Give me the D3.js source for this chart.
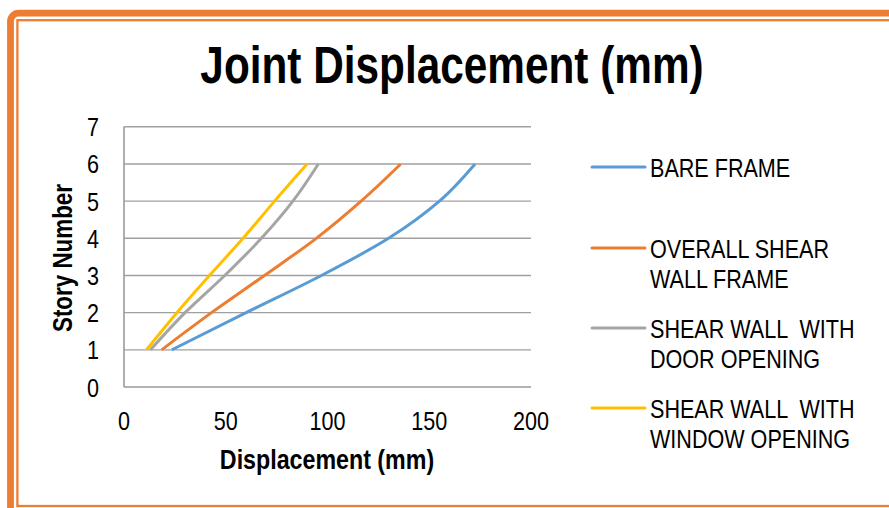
<!DOCTYPE html>
<html>
<head>
<meta charset="utf-8">
<script src="https://cdn.jsdelivr.net/npm/d3@7"></script>
<style>
  html, body { margin: 0; padding: 0; background: #fff; }
  svg { display: block; }
  text { font-family: "Liberation Sans", Arial, sans-serif; fill: #000; }
</style>
</head>
<body>
<svg id="chart" width="889" height="508"></svg>
<script>
// ---- data ----
const stories = [1, 2, 3, 4, 5, 6];
const bareFrame = [23.5, 60, 97, 130, 155, 172.5];
const overallShearWall = [18.5, 43, 69, 94.5, 116.5, 136];
const doorOpening = [13, 30, 49.5, 67.5, 83, 95.5];
const windowOpening = [11, 26, 42, 58.5, 74, 90];
const seriesNames = [
  ["BARE FRAME"],
  ["OVERALL SHEAR", "WALL FRAME"],
  ["SHEAR WALL  WITH", "DOOR OPENING"],
  ["SHEAR WALL  WITH", "WINDOW OPENING"]
];
const seriesColors = ["#5B9BD5", "#ED7D31", "#A5A5A5", "#FFC000"];
const xTicks = [0, 50, 100, 150, 200];
const yTicks = [0, 1, 2, 3, 4, 5, 6, 7];
const chartTitle = "Joint Displacement (mm)";
const xTitle = "Displacement (mm)";
const yTitle = "Story Number";

const seriesValues = [bareFrame, overallShearWall, doorOpening, windowOpening];
const NARROW = 0.83;

const svg = d3.select("#chart");

// helper for condensed text
function ntext(parent, tx, ty, str, opts) {
  const o = Object.assign({ size: 26, anchor: "start", bold: false, rotate: 0 }, opts || {});
  return parent.append("text")
    .attr("transform", `translate(${tx},${ty})` + (o.rotate ? ` rotate(${o.rotate})` : "") + ` scale(${NARROW},1)`)
    .attr("text-anchor", o.anchor)
    .attr("font-size", o.size)
    .attr("font-weight", o.bold ? "bold" : "normal")
    .style("white-space", "pre")
    .text(str);
}

// frame
svg.append("rect").attr("x", 10.5).attr("y", 13.2).attr("width", 900).attr("height", 520)
  .attr("rx", 8).attr("fill", "none").attr("stroke", "#ED7D31").attr("stroke-width", 6.8);
svg.append("rect").attr("x", 17.4).attr("y", 20.2).attr("width", 900).attr("height", 485.8)
  .attr("fill", "none").attr("stroke", "#ED7D31").attr("stroke-width", 2.3);

const x = d3.scaleLinear().domain([0, 200]).range([124, 531]);
const y = d3.scaleLinear().domain([0, 7]).range([387, 126.8]);

// gridlines
svg.append("g").selectAll("line").data(yTicks.filter(d => d > 0)).join("line")
  .attr("x1", x(0)).attr("x2", x(200)).attr("y1", d => y(d)).attr("y2", d => y(d))
  .attr("stroke", "#A0A0A0").attr("stroke-width", 1.4);

// axes lines
svg.append("line").attr("x1", x(0)).attr("x2", x(200)).attr("y1", y(0)).attr("y2", y(0))
  .attr("stroke", "#9A9A9A").attr("stroke-width", 1.6);
svg.append("line").attr("x1", x(0)).attr("x2", x(0)).attr("y1", y(0)).attr("y2", y(7))
  .attr("stroke", "#9A9A9A").attr("stroke-width", 1.6);

// tick labels
const xg = svg.append("g");
xTicks.forEach(d => ntext(xg, x(d), 430, String(d), { size: 26, anchor: "middle" }));
const yg = svg.append("g");
yTicks.forEach(d => ntext(yg, 99, y(d) + 9.5, String(d), { size: 26, anchor: "end" }));

// titles
ntext(svg, 452, 83, chartTitle, { size: 51, anchor: "middle", bold: true });
ntext(svg, 327, 469, xTitle, { size: 28, anchor: "middle", bold: true });
ntext(svg, 72, 258, yTitle, { size: 27, anchor: "middle", bold: true, rotate: -90 });

// lines
const line = d3.line().x(d => x(d[0])).y(d => y(d[1])).curve(d3.curveMonotoneY);
seriesValues.forEach((vals, i) => {
  svg.append("path").datum(vals.map((v, j) => [v, stories[j]]))
    .attr("d", line).attr("fill", "none").attr("stroke", seriesColors[i])
    .attr("stroke-width", 3).attr("stroke-linejoin", "round");
});

// legend
const legendY = [167, 248, 328, 408];
seriesNames.forEach((lines, i) => {
  const g = svg.append("g");
  g.append("line").attr("x1", 592).attr("x2", 645).attr("y1", legendY[i]).attr("y2", legendY[i])
    .attr("stroke", seriesColors[i]).attr("stroke-width", 3).attr("stroke-linecap", "round");
  lines.forEach((t, k) => ntext(g, 650, legendY[i] + 9.5 + k * 30, t, { size: 26 }));
});
</script>
</body>
</html>
